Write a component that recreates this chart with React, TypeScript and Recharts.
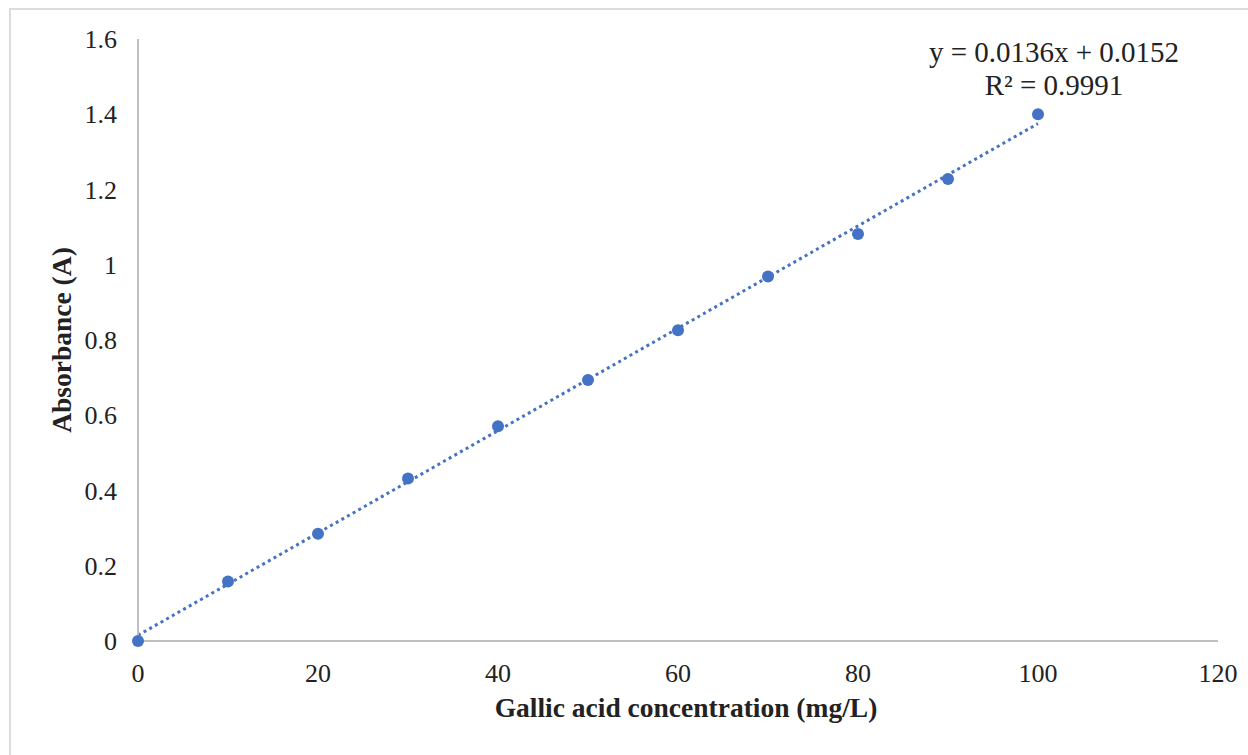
import React from 'react';
import { ScatterChart, Scatter, XAxis, YAxis, ReferenceLine } from 'recharts';

const concentrations = [0, 10, 20, 30, 40, 50, 60, 70, 80, 90, 100];
const absorbances = [0, 0.158, 0.285, 0.432, 0.571, 0.694, 0.826, 0.969, 1.082, 1.228, 1.4];
const xTicks = [0, 20, 40, 60, 80, 100, 120];
const yTicks = [0, 0.2, 0.4, 0.6, 0.8, 1, 1.2, 1.4, 1.6];
const trendX = [0, 100];
const trendY = [0.0152, 1.3752];
const equationText = 'y = 0.0136x + 0.0152';
const r2Text = 'R\u00B2 = 0.9991';
const xTitle = 'Gallic acid concentration (mg/L)';
const yTitle = 'Absorbance (A)';

const data = concentrations.map((x, i) => ({ x, y: absorbances[i] }));

const FONT = '"Liberation Serif", "Times New Roman", serif';
const BLUE = '#4472C4';
const AXIS = '#BFBFBF';
const TEXT = '#222222';

const Dot = (props: any) => <circle cx={props.cx} cy={props.cy} r={6} fill={BLUE} />;

export default function App() {
  return (
    <div
      style={{
        position: 'fixed',
        left: 0,
        top: 0,
        width: 1248,
        height: 755,
        background: '#ffffff',
        overflow: 'hidden',
        fontFamily: FONT,
      }}
    >
      <div
        style={{
          position: 'absolute',
          left: 9,
          top: 8,
          width: 1300,
          height: 800,
          border: '2.5px solid #DCDCDC',
          boxSizing: 'border-box',
        }}
      />
      <div style={{ position: 'absolute', left: 0, top: 0 }}>
        <ScatterChart
          width={1248}
          height={755}
          margin={{ top: 39, right: 30, bottom: 0, left: 40 }}
        >
          <XAxis
            type="number"
            dataKey="x"
            domain={[0, 120]}
            ticks={xTicks}
            interval={0}
            stroke={AXIS}
            strokeWidth={2}
            tickLine={false}
            tickSize={6}
            tickMargin={17}
            tick={{ fill: TEXT, fontSize: 26, fontFamily: FONT }}
            height={114}
            label={{
              value: xTitle,
              position: 'insideTop',
              offset: 56,
              dx: 8,
              style: { fill: TEXT, fontSize: 27.5, fontWeight: 'bold', fontFamily: FONT },
            }}
          />
          <YAxis
            type="number"
            dataKey="y"
            domain={[0, 1.6]}
            ticks={yTicks}
            interval={0}
            stroke={AXIS}
            strokeWidth={2}
            tickLine={false}
            tickSize={6}
            tickMargin={15}
            width={98}
            tick={{ fill: TEXT, fontSize: 26, fontFamily: FONT }}
            label={{
              value: yTitle,
              angle: -90,
              position: 'insideLeft',
              offset: 21,
              style: { fill: TEXT, fontSize: 27.5, fontWeight: 'bold', fontFamily: FONT, textAnchor: 'middle' },
            }}
          />
          <Scatter data={data} fill={BLUE} isAnimationActive={false} shape={Dot} />
          <ReferenceLine
            segment={[
              { x: trendX[0], y: trendY[0] },
              { x: trendX[1], y: trendY[1] },
            ]}
            stroke={BLUE}
            strokeWidth={3}
            strokeDasharray="3 3.5"
            ifOverflow="visible"
          />
        </ScatterChart>
      </div>
      <div
        style={{
          position: 'absolute',
          left: 854,
          top: 36,
          width: 400,
          textAlign: 'center',
          fontSize: 29,
          lineHeight: '33px',
          color: TEXT,
          whiteSpace: 'nowrap',
        }}
      >
        <div>{equationText}</div>
        <div>{r2Text}</div>
      </div>
    </div>
  );
}
